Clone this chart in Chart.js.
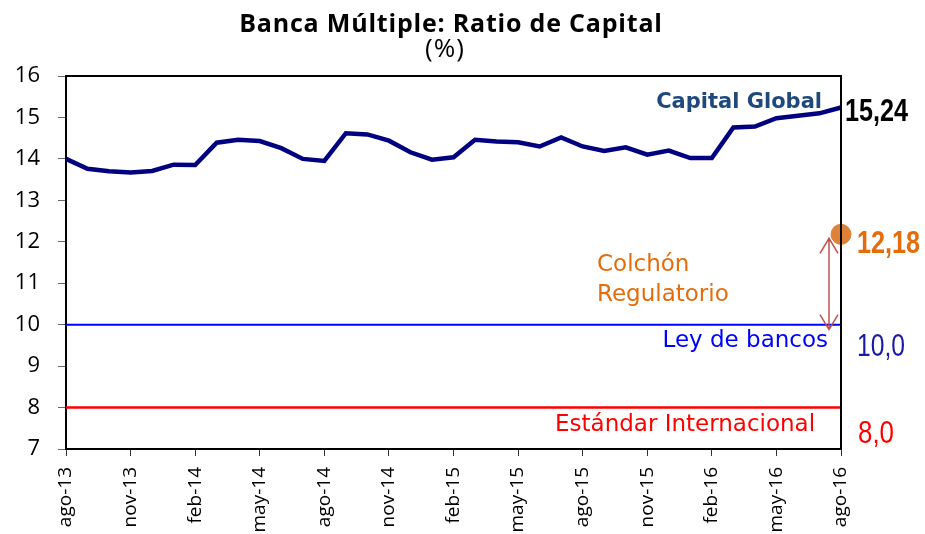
<!DOCTYPE html>
<html lang="es">
<head>
<meta charset="UTF-8">
<title>Banca Múltiple: Ratio de Capital</title>
<script src="https://cdn.jsdelivr.net/npm/chart.js"></script>
<style>
  body { margin: 0; background: #fff; }
  canvas { display: block; }
</style>
</head>
<body>
<canvas id="chart" width="925" height="534"></canvas>
<script>
  const months = [
    'ago-13', 'sep-13', 'oct-13', 'nov-13', 'dic-13', 'ene-14', 'feb-14', 'mar-14', 'abr-14',
    'may-14', 'jun-14', 'jul-14', 'ago-14', 'sep-14', 'oct-14', 'nov-14', 'dic-14', 'ene-15',
    'feb-15', 'mar-15', 'abr-15', 'may-15', 'jun-15', 'jul-15', 'ago-15', 'sep-15', 'oct-15',
    'nov-15', 'dic-15', 'ene-16', 'feb-16', 'mar-16', 'abr-16', 'may-16', 'jun-16', 'jul-16',
    'ago-16'
  ];
  const capitalGlobal = [
    14.00, 13.76, 13.70, 13.67, 13.71, 13.86, 13.85, 14.39, 14.46,
    14.43, 14.26, 14.00, 13.95, 14.62, 14.59, 14.44, 14.16, 13.98,
    14.04, 14.46, 14.42, 14.40, 14.30, 14.52, 14.30, 14.19, 14.28,
    14.10, 14.20, 14.02, 14.02, 14.76, 14.78, 14.98, 15.04, 15.10,
    15.24
  ];
  const colchon = 12.18;
  const leyBancos = 10;
  const estandar = 8;
  const yTicks = [7, 8, 9, 10, 11, 12, 13, 14, 15, 16];

  const first = months[0];
  const last = months[months.length - 1];

  // textos y marco dibujados encima
  const extras = {
    id: 'extras',
    afterDraw(chart) {
      const c = chart.ctx;
      const a = chart.chartArea;
      const x = chart.scales.x;
      const y = chart.scales.y;
      c.save();

      // marco superior y derecho
      c.strokeStyle = '#000';
      c.lineWidth = 2;
      c.beginPath();
      c.moveTo(a.left, a.top);
      c.lineTo(a.right, a.top);
      c.lineTo(a.right, a.bottom);
      c.stroke();

      // flecha del colchón
      const ax = x.getPixelForValue(months.length - 1) - 12;
      const y1 = y.getPixelForValue(colchon) + 4;
      const y2 = y.getPixelForValue(leyBancos) + 5;
      c.strokeStyle = '#c0504d';
      c.lineWidth = 1.5;
      c.beginPath();
      c.moveTo(ax, y1); c.lineTo(ax, y2);
      c.moveTo(ax - 9, y1 + 15); c.lineTo(ax, y1); c.lineTo(ax + 9, y1 + 15);
      c.moveTo(ax - 9, y2 - 15); c.lineTo(ax, y2); c.lineTo(ax + 9, y2 - 15);
      c.stroke();

      function txt(s, px, py, font, color, align, w, sp) {
        c.font = font;
        c.fillStyle = color;
        c.textAlign = align;
        c.textBaseline = 'alphabetic';
        c.letterSpacing = sp || '0px';
        if (w) c.fillText(s, px, py, w); else c.fillText(s, px, py);
      }

      txt('Banca Múltiple: Ratio de Capital', 451, 32, 'bold 25px "Open Sans"', '#000', 'center', 427, '0.8px');
      txt('(%)', 445, 57, '26px "Open Sans"', '#000', 'center', 0, '1px');

      txt('Capital Global', 822, 108, 'bold 21px "DejaVu Sans"', '#1f497d', 'right', 167);
      txt('15,24', 845, 121, 'bold 31px "Liberation Sans"', '#000', 'left', 63);
      txt('12,18', 857, 253, 'bold 31px "Liberation Sans"', '#e46c0a', 'left', 63);
      txt('Colchón', 597, 271, '23px "DejaVu Sans"', '#e46c0a', 'left', 95);
      txt('Regulatorio', 597, 301, '23px "DejaVu Sans"', '#e46c0a', 'left', 138);
      txt('Ley de bancos', 828, 347, '23px "DejaVu Sans"', '#0000ff', 'right', 166);
      txt('10,0', 857, 356, '31px "Liberation Sans"', '#1a1aaa', 'left', 48);
      txt('Estándar Internacional', 555, 431, '23px "DejaVu Sans"', '#ff0000', 'left', 268);
      txt('8,0', 858, 443, '31px "Liberation Sans"', '#ff0000', 'left', 36);

      c.restore();
    }
  };

  new Chart(document.getElementById('chart').getContext('2d'), {
    type: 'line',
    data: {
      labels: months,
      datasets: [
        {
          label: 'Estándar Internacional',
          data: [{ x: first, y: estandar }, { x: last, y: estandar }],
          borderColor: '#ff0000',
          borderWidth: 2.5,
          pointRadius: 0
        },
        {
          label: 'Ley de bancos',
          data: [{ x: first, y: leyBancos }, { x: last, y: leyBancos }],
          borderColor: '#0000ff',
          borderWidth: 2,
          pointRadius: 0
        },
        {
          label: 'Capital Global',
          data: capitalGlobal,
          borderColor: '#000080',
          borderWidth: 4.5,
          pointRadius: 0,
          tension: 0,
          clip: false
        },
        {
          label: 'Colchón Regulatorio',
          data: [{ x: last, y: colchon }],
          showLine: false,
          pointRadius: 10,
          pointBackgroundColor: '#dd8238',
          pointBorderColor: '#dd8238',
          clip: false
        }
      ]
    },
    options: {
      responsive: false,
      animation: false,
      layout: { padding: { top: 76, right: 84, left: 0, bottom: 0 } },
      plugins: {
        legend: { display: false },
        tooltip: { enabled: false },
        title: { display: false }
      },
      scales: {
        x: {
          offset: false,
          afterFit: s => { s.height = 85; },
          border: { display: true, color: '#000', width: 2 },
          grid: {
            drawOnChartArea: false,
            tickLength: 7,
            tickColor: ctx => (ctx.index % 3 === 0 ? '#333' : 'rgba(0,0,0,0)')
          },
          ticks: {
            autoSkip: false,
            maxRotation: 90,
            minRotation: 90,
            padding: 11,
            color: '#000',
            font: { family: 'Open Sans', size: 19 },
            callback: (v, i) => (i % 3 === 0 ? months[i] : '')
          }
        },
        y: {
          min: yTicks[0],
          max: yTicks[yTicks.length - 1],
          afterFit: s => { s.width = 66; },
          afterBuildTicks: s => { s.ticks = yTicks.map(v => ({ value: v })); },
          border: { display: true, color: '#000', width: 2 },
          grid: { drawOnChartArea: false, tickLength: 8, tickColor: '#666' },
          ticks: {
            padding: 18,
            color: '#000',
            font: { family: 'Open Sans', size: 22 }
          }
        }
      }
    },
    plugins: [extras]
  });
</script>
</body>
</html>
